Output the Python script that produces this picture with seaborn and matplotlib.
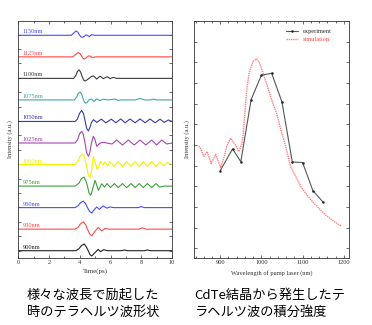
import numpy as np
import pandas as pd
import matplotlib
matplotlib.use("Agg")
import matplotlib.pyplot as plt
from matplotlib.ticker import MultipleLocator, FixedLocator
import seaborn as sns

# ---------------- data: left panel (THz waveforms) ----------------
wavelength_labels = ["1150nm", "1125nm", "1100nm", "1075nm", "1050nm", "1025nm",
                     "1000nm", "975nm", "950nm", "930nm", "900nm"]

t_1150 = [0, 3.45, 3.6, 3.75, 3.88, 3.97, 4.07, 4.17, 4.28, 4.40, 4.51, 4.62, 4.7, 4.77, 4.9, 5.0, 10]
a_1150 = [0, 0, 2.2, 4.3, 3.0, 0.5, -1.5, -2.0, -1.2, 0.5, -0.2, -1.3, -0.3, 0.7, 0.2, 0, 0]
t_1125 = [0, 3.55, 3.72, 3.90, 4.02, 4.12, 4.20, 4.29, 4.38, 4.48, 4.55, 4.62, 4.72, 4.82, 4.95, 5.05, 10]
a_1125 = [0, 0, 2.2, 4.3, 3.0, 0.8, -1.3, -2.3, -1.5, 0, 0.7, 1.0, 0.2, -0.8, -0.3, 0, 0]
t_1100 = [0, 3.6, 3.75, 3.85, 3.95, 4.05, 4.15, 4.25, 4.34, 4.47, 4.6, 4.75, 4.88, 5.0, 5.10,
          5.21, 5.32, 5.43, 5.53, 5.66, 5.79, 5.88, 5.97, 6.08, 6.18, 6.4, 10]
a_1100 = [0, 0, 3, 7, 8.5, 6.5, 2, -1.5, -2.7, -1.5, 0, 1.8, 2.5, 1, -0.7,
          0.8, 2.2, 1, -0.3, 0.8, 1.7, 0.7, -0.3, 0.5, 1.0, 0, 0]
t_1075 = [0, 3.65, 3.8, 3.9, 4.01, 4.1, 4.2, 4.3, 4.40, 4.5, 4.6, 4.75, 4.92, 5.10, 5.32,
          5.53, 5.8, 6.3, 6.5, 6.7, 7.6, 7.92, 8.2, 8.6, 8.8, 9.0, 10]
a_1075 = [0, 0, 3, 6.5, 8, 6.5, 2, -2, -3.3, -2, 0, 1.0, -1.5, 1.0, -0.7,
          0.8, 0, 0.8, -0.5, 0, 0, 1.5, 0, 0, 0.8, 0, 0]
t_1050 = [0, 3.7, 3.85, 3.98, 4.12, 4.24, 4.34, 4.45, 4.56, 4.66, 4.75, 4.88, 5.0, 5.1, 5.4,
          5.7, 6.05, 6.35, 6.66, 6.95, 7.27, 7.6, 7.92, 8.25, 8.57, 8.9, 9.22, 9.5, 9.76, 10]
a_1050 = [0, 0, 2.5, 8, 11, 8, 1, -7, -9.5, -6, -1.5, 1.7, 0.5, -1.0, 2.3,
          -1.3, 2.3, -1.3, 2.5, -1.3, 2.5, -1.3, 2.5, -1.3, 2.5, -1.3, 2.3, -1.0, 1.5, 0]
t_1025 = [0, 3.69, 3.85, 3.98, 4.12, 4.23, 4.34, 4.45, 4.56, 4.66, 4.76, 4.88, 4.99, 5.1, 5.25,
          5.4, 5.6, 5.9, 6.1, 6.4, 6.78, 7.16, 7.54, 7.92, 8.3, 8.68, 9.0, 9.33, 9.65, 10]
a_1025 = [0, 0, 3, 9, 11.7, 8.5, 0, -10, -13.3, -9, 0, 6.7, 3.5, -3.3, -1,
          0.5, 0.5, -0.5, -1.0, 3.0, -2.0, 3.0, -2.0, 3.0, -2.0, 3.0, -2.0, 3.0, -1.0, 0]
t_1000 = [0, 3.7, 3.88, 4.03, 4.19, 4.31, 4.42, 4.55, 4.66, 4.77, 4.88, 5.0, 5.14, 5.25, 5.36,
          5.5, 5.65, 5.8, 5.97, 6.23, 6.5, 6.78, 7.05, 7.33, 7.6, 7.87, 8.13, 8.4, 8.68, 8.95,
          9.22, 9.45, 9.7, 10]
a_1000 = [0, 0, 3, 8.5, 10.7, 7, 0, -10, -13.3, -6, 8.0, 2, -5, -1, 3.3,
          -0.5, 2.5, -1.5, 3.0, -2.0, 3.0, -2.0, 3.0, -2.0, 3.0, -2.0, 3.0, -2.0, 3.0, -2.0,
          2.5, -1.5, 2.0, 0]
t_975 = [0, 3.7, 3.95, 4.1, 4.27, 4.4, 4.5, 4.6, 4.71, 4.82, 4.99, 5.1, 5.21, 5.32, 5.43,
         5.6, 5.77, 6.0, 6.25, 6.5, 6.78, 7.05, 7.33, 7.6, 7.87, 8.13, 8.4, 8.68, 8.95, 9.2,
         9.5, 10]
a_975 = [0, 0, 3, 7.5, 9, 5, 0, -7, -9.3, -4, 5.7, 1, -4.3, -1, 2.3,
         -1.0, 2.5, -1.5, 2.5, -1.5, 2.5, -1.5, 2.5, -1.5, 2.5, -1.5, 2.5, -1.5, 2.5, -1.0,
         0, 0]
t_950 = [0, 3.7, 3.9, 4.05, 4.23, 4.38, 4.5, 4.65, 4.78, 4.92, 5.10, 5.27, 5.53, 5.75, 5.97,
         6.2, 7.8, 8.0, 8.2, 10]
a_950 = [0, 0, 2, 5, 6.5, 4, 0, -4, -5.3, -2.5, 0.7, -1.7, 1.7, -0.5, 0.7,
         0, 0, 1.0, 0, 0]
t_930 = [0, 3.7, 3.9, 4.05, 4.23, 4.38, 4.5, 4.65, 4.78, 4.95, 5.2, 5.43, 5.65, 5.9, 7.85,
         8.07, 8.3, 10]
a_930 = [0, 0, 2, 5.5, 7.3, 4.5, 0, -5, -6.7, -3, 1.7, -1.7, 0.7, 0, 0,
         1.3, 0, 0]
t_900 = [0, 3.75, 3.95, 4.12, 4.29, 4.42, 4.55, 4.67, 4.78, 4.95, 5.2, 5.35, 5.55, 5.8, 6.7,
         6.9, 7.1, 8.2, 8.4, 8.6, 10]
a_900 = [0, 0, 2, 5.3, 6.7, 4, 0, -4, -5.3, -2.5, 1.3, -1.0, 1.0, 0, 0,
         0.7, 0, 0, 0.7, 0, 0]

trace_times = [t_1150, t_1125, t_1100, t_1075, t_1050, t_1025, t_1000, t_975, t_950, t_930, t_900]
trace_amps = [a_1150, a_1125, a_1100, a_1075, a_1050, a_1025, a_1000, a_975, a_950, a_930, a_900]
trace_colors = ["#4a4aff", "#ff4a4a", "#3c3c3c", "#3fa8a8", "#3a3aa6", "#a844b4",
                "#f2f200", "#3f9f3f", "#4a4aff", "#ff4a4a", "#222222"]

# ---------------- data: right panel (integrated intensity) ----------------
exp_wl = [900, 930, 950, 975, 1000, 1025, 1050, 1075, 1100, 1125, 1150]
exp_val = [3.76, 4.81, 4.19, 7.2, 8.38, 8.47, 7.07, 4.18, 4.15, 2.79, 2.23]

sim_wl = [848, 853, 860, 868, 878, 889, 901, 909, 917, 925, 937, 945, 953, 956, 960, 964,
          968, 972, 980, 988, 996, 1004, 1012, 1020, 1028, 1037, 1045, 1059, 1071, 1084,
          1096, 1110, 1124, 1140, 1156, 1175, 1194]
sim_val = [4.95, 4.8, 4.45, 4.68, 4.1, 4.55, 3.9, 4.4, 5.0, 5.33, 5.0, 4.68, 5.08, 5.6, 6.6,
           7.6, 8.2, 8.63, 9.05, 9.17, 8.95, 8.47, 8.0, 7.5, 7.0, 6.54, 5.9, 4.92, 3.95, 3.45,
           2.98, 2.6, 2.26, 1.92, 1.61, 1.32, 1.08]

# ---------------- style ----------------
sns.set_theme(style="ticks")
plt.rcParams["font.family"] = ["Liberation Serif", "DejaVu Serif"]
plt.rcParams["axes.linewidth"] = 0.6
plt.rcParams["axes.edgecolor"] = "#333333"

W, H = 372, 325
fig = plt.figure(figsize=(W / 100, H / 100), dpi=100)
fig.patch.set_facecolor("white")

def px_axes(x0, y0, x1, y1):
    return fig.add_axes([x0 / W, 1 - y1 / H, (x1 - x0) / W, (y1 - y0) / H])

# ---------------- left panel ----------------
ax1 = px_axes(18.3, 21, 172, 257.7)
spacing = 21.54
n = len(trace_times)
for i, (tt, aa, col, lab) in enumerate(zip(trace_times, trace_amps, trace_colors, wavelength_labels)):
    off = (n - 1 - i) * spacing
    df = pd.DataFrame({"t": tt, "y": np.array(aa) + off})
    sns.lineplot(data=df, x="t", y="y", ax=ax1, color=col, linewidth=0.8,
                 estimator=None, sort=False)
    ax1.text(0.3, off + 3.5, lab, color=col, fontsize=4.6, ha="left", va="center")

ax1.set_xlim(0, 10)
ax1.set_ylim(-7.0, 10 * spacing + 14.3)
ax1.xaxis.set_major_locator(FixedLocator([0, 2, 4, 6, 8, 10]))
ax1.xaxis.set_minor_locator(MultipleLocator(1))
ax1.yaxis.set_major_locator(MultipleLocator(14.4))
ax1.set_yticklabels([])
ax1.set_xlabel("Time(ps)", fontsize=5, color="#333333")
ax1.set_ylabel("Intensity (a.u.)", fontsize=4.6, color="#333333")
ax1.xaxis.set_label_coords(0.5, -0.045)
ax1.yaxis.set_label_coords(-0.036, 0.5)

# ---------------- right panel ----------------
ax2 = px_axes(194.3, 21, 348.7, 258)
sns.lineplot(x=sim_wl, y=sim_val, ax=ax2, color="#ff7f7f", linewidth=1.0,
             linestyle=(0, (1, 0.6)), label="simulation", estimator=None, sort=False)
sns.lineplot(x=exp_wl, y=exp_val, ax=ax2, color="#555555", linewidth=0.8,
             marker="o", markersize=1.8, markeredgewidth=0, markerfacecolor="#222222",
             label="experiment", estimator=None, sort=False)
ax2.set_xlim(837, 1212)
ax2.set_ylim(-0.47, 11.0)
ax2.xaxis.set_major_locator(FixedLocator([900, 1000, 1100, 1200]))
ax2.xaxis.set_minor_locator(MultipleLocator(20))
ax2.yaxis.set_major_locator(MultipleLocator(1))
ax2.set_yticklabels([])
ax2.set_xlabel("Wavelength of pump laser (nm)", fontsize=4.6, color="#333333")
ax2.set_ylabel("Intensity (a.u.)", fontsize=4.6, color="#333333")
ax2.xaxis.set_label_coords(0.5, -0.05)
ax2.yaxis.set_label_coords(-0.026, 0.5)

handles, labels = ax2.get_legend_handles_labels()
order = [labels.index("experiment"), labels.index("simulation")]
ax2.legend([handles[k] for k in order], [labels[k] for k in order],
           loc="upper left", bbox_to_anchor=(0.58, 0.98), frameon=False,
           fontsize=4.6, handlelength=1.8, handletextpad=0.8, labelspacing=0.45,
           borderaxespad=0)
leg = ax2.get_legend()
leg.get_texts()[1].set_color("#ff4a4a")

for ax in (ax1, ax2):
    ax.tick_params(which="both", direction="in", top=True, right=True,
                   width=0.5, colors="#333333", labelsize=4.6, pad=1.5)
    ax.tick_params(which="major", length=2.5)
    ax.tick_params(which="minor", length=1.3)
    for s in ax.spines.values():
        s.set_visible(True)
        s.set_linewidth(0.6)

# ---------------- captions ----------------
cjk = ["Noto Sans CJK JP", "DejaVu Sans"]
fig.text(27 / W, 1 - 295 / H, "様々な波長で励起した", fontsize=9.5, family=cjk,
         ha="left", va="center", color="black")
fig.text(27 / W, 1 - 312 / H, "時のテラヘルツ波形状", fontsize=9.5, family=cjk,
         ha="left", va="center", color="black")
fig.text(194 / W, 1 - 295 / H, "CdTe結晶から発生したテ", fontsize=9.5, family=cjk,
         ha="left", va="center", color="black")
fig.text(194 / W, 1 - 312 / H, "ラヘルツ波の積分強度", fontsize=9.5, family=cjk,
         ha="left", va="center", color="black")

fig.savefig("out.png", dpi=100, facecolor="white")
